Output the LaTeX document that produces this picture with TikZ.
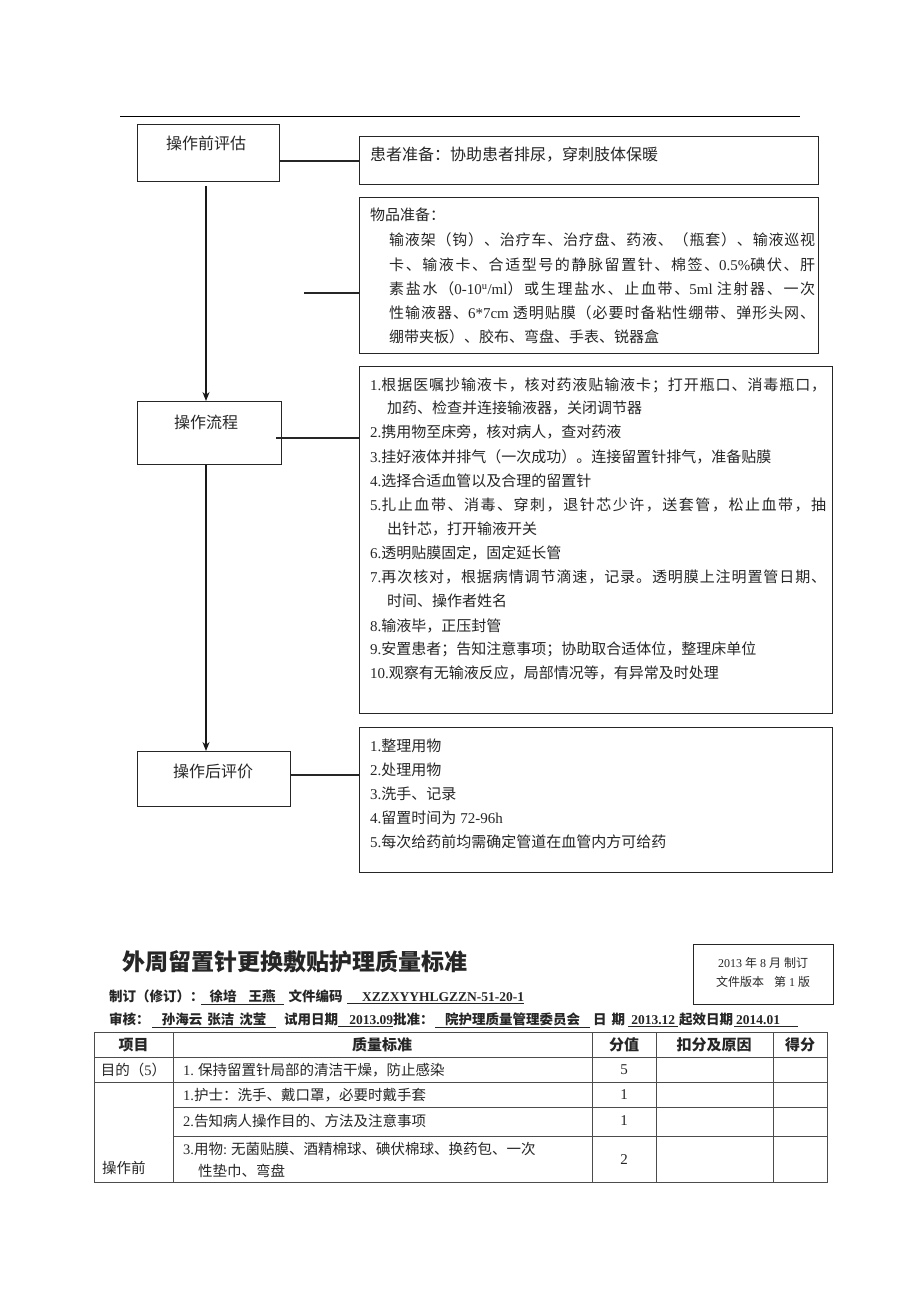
\documentclass[tikz,border=0pt]{standalone}
\usepackage{fontspec}
\setmainfont{Noto Sans CJK SC}
\newfontfamily\en{Liberation Serif}
\usetikzlibrary{arrows.meta}
\newcommand\fsz[1]{\fontsize{#1}{#1}\selectfont}
\newcount\cjkc
\cjkc="4E00
\loop \XeTeXcharclass\cjkc=1 \advance\cjkc by 1 \ifnum\cjkc<"9FB0 \repeat
\cjkc="3001
\loop \XeTeXcharclass\cjkc=1 \advance\cjkc by 1 \ifnum\cjkc<"3040 \repeat
\cjkc="FF01
\loop \XeTeXcharclass\cjkc=1 \advance\cjkc by 1 \ifnum\cjkc<"FF61 \repeat
\XeTeXinterchartokenstate=1
\XeTeXinterchartoks 1 1={\hskip0pt plus 1pt\relax}
\XeTeXinterchartoks 0 1={\hskip0pt plus 1pt\relax}
\XeTeXinterchartoks 1 0={\hskip0pt plus 1pt\relax}
\newcommand\jl[2]{\makebox[#1][s]{#2}}
\begin{document}
\begin{tikzpicture}[x=1pt,y=-1pt,
  box/.style={draw=black!85, line width=0.9pt, anchor=north west, inner sep=0pt},
  txt/.style={anchor=west, inner sep=0pt, text=black!85},
  ctxt/.style={anchor=center, inner sep=0pt, text=black!85},
  conn/.style={line width=2.4pt, black!85},
  arr/.style={line width=1.3pt, black!90, -{Stealth[length=9pt,width=7pt]}},
  grid/.style={line width=0.9pt, black!70}]
\useasboundingbox (0,0) rectangle (920,1302);
\fill[white] (0,0) rectangle (920,1302);
% top rule
\draw[line width=1pt] (120,116) -- (800,116);

% left boxes
\node[box, minimum width=142, minimum height=57] (pre) at (137,124) {};
\node[ctxt, font=\fsz{16}] (preT) at (206,143) {操作前评估};
\node[box, minimum width=144, minimum height=63] (flow) at (137,401) {};
\node[ctxt, font=\fsz{16}] (flowT) at (206,422) {操作流程};
\node[box, minimum width=153, minimum height=55] (post) at (137,751) {};
\node[ctxt, font=\fsz{16}] (postT) at (213,771) {操作后评价};

% right boxes
\node[box, minimum width=459, minimum height=48] (pat) at (359,136) {};
\node[txt, font=\fsz{16}] (patT) at (370,155) {患者准备：协助患者排尿，穿刺肢体保暖};

\node[box, minimum width=459, minimum height=156] (mat) at (359,197) {};
\node[txt, font=\fsz{15}] (m0) at (370,215) {物品准备：};
\node[txt, font=\fsz{15}] (m1) at (389,240) {\jl{426pt}{输液架（钩）、治疗车、治疗盘、药液、（瓶套）、输液巡视}};
\node[txt, font=\fsz{15}] (m2) at (389,265) {\jl{426pt}{卡、输液卡、合适型号的静脉留置针、棉签、{\en 0.5\%}碘伏、肝}};
\node[txt, font=\fsz{15}] (m3) at (389,289) {\jl{426pt}{素盐水（{\en 0-10\textsuperscript{u}/ml}）或生理盐水、止血带、{\en 5ml}\hspace{4pt}注射器、一次}};
\node[txt, font=\fsz{15}] (m4) at (389,313) {\jl{426pt}{性输液器、{\en 6*7cm}\hspace{4pt}透明贴膜（必要时备粘性绷带、弹形头网、}};
\node[txt, font=\fsz{15}] (m5) at (389,337) {绷带夹板）、胶布、弯盘、手表、锐器盒};

\node[box, minimum width=473, minimum height=347] (steps) at (359,366) {};
\node[txt, font=\fsz{15}] (s1) at (370,385) {\jl{456pt}{{\en 1.}根据医嘱抄输液卡，核对药液贴输液卡；打开瓶口、消毒瓶口，}};
\node[txt, font=\fsz{15}] (s1b) at (387,408) {加药、检查并连接输液器，关闭调节器};
\node[txt, font=\fsz{15}] (s2) at (370,432) {{\en 2.}携用物至床旁，核对病人，查对药液};
\node[txt, font=\fsz{15}] (s3) at (370,457) {{\en 3.}挂好液体并排气（一次成功）。连接留置针排气，准备贴膜};
\node[txt, font=\fsz{15}] (s4) at (370,481) {{\en 4.}选择合适血管以及合理的留置针};
\node[txt, font=\fsz{15}] (s5) at (370,505) {\jl{456pt}{{\en 5.}扎止血带、消毒、穿刺，退针芯少许，送套管，松止血带，抽}};
\node[txt, font=\fsz{15}] (s5b) at (387,529) {出针芯，打开输液开关};
\node[txt, font=\fsz{15}] (s6) at (370,553) {{\en 6.}透明贴膜固定，固定延长管};
\node[txt, font=\fsz{15}] (s7) at (370,577) {\jl{456pt}{{\en 7.}再次核对，根据病情调节滴速，记录。透明膜上注明置管日期、}};
\node[txt, font=\fsz{15}] (s7b) at (387,601) {时间、操作者姓名};
\node[txt, font=\fsz{15}] (s8) at (370,626) {{\en 8.}输液毕，正压封管};
\node[txt, font=\fsz{15}] (s9) at (370,649) {{\en 9.}安置患者；告知注意事项；协助取合适体位，整理床单位};
\node[txt, font=\fsz{15}] (s10) at (370,673) {{\en 10.}观察有无输液反应，局部情况等，有异常及时处理};

\node[box, minimum width=473, minimum height=145] (res) at (359,727) {};
\node[txt, font=\fsz{15}] (r1) at (370,746) {{\en 1.}整理用物};
\node[txt, font=\fsz{15}] (r2) at (370,770) {{\en 2.}处理用物};
\node[txt, font=\fsz{15}] (r3) at (370,794) {{\en 3.}洗手、记录};
\node[txt, font=\fsz{15}] (r4) at (370,818) {{\en 4.}留置时间为\hspace{4pt}{\en 72-96h}};
\node[txt, font=\fsz{15}] (r5) at (370,842) {{\en 5.}每次给药前均需确定管道在血管内方可给药};

% connectors
\coordinate (c1) at (279,161);
\coordinate (c2) at (304,293);
\coordinate (c3) at (276,438);
\coordinate (c4) at (290,775);
\draw[conn] (c1) -- (c1 -| pat.west);
\draw[conn] (c2) -- (c2 -| mat.west);
\draw[conn] (c3) -- (c3 -| steps.west);
\draw[conn, line width=1.8pt] (c4) -- (c4 -| res.west);
\draw[arr] (pre.south -| 206,0) ++(0,4) -- (flow.north -| 206,0);
\draw[arr] (flow.south -| 206,0) -- (post.north -| 206,0);

% ===== lower part =====
\node[txt, font=\fsz{23}\bfseries] (title) at (122,962) {外周留置针更换敷贴护理质量标准};
\node[box, minimum width=140, minimum height=60] (ver) at (693,944) {};
\node[ctxt, font=\fsz{12}] (v1) at (763,963) {{\en 2013}\hspace{3pt}年\hspace{3pt}{\en 8}\hspace{3pt}月\hspace{3pt}制订};
\node[ctxt, font=\fsz{12}] (v2) at (763,982) {文件版本\hspace{10pt}第\hspace{3pt}{\en 1}\hspace{3pt}版};

\node[txt, font=\fsz{13.5}\bfseries] (h1) at (109,997) {\makebox[92pt][l]{制订（修订）：}\underline{\makebox[83pt]{徐培\hspace{12pt}王燕}}\makebox[63pt][c]{文件编码}\underline{\makebox[177pt][r]{\en\bfseries XZZXYYHLGZZN-51-20-1}}};
\node[txt, font=\fsz{13.5}\bfseries] (h2) at (109,1020) {\makebox[43pt][l]{审核：}\underline{\makebox[124pt]{孙海云\hspace{5pt}张洁\hspace{5pt}沈莹}}\makebox[62pt][r]{试用日期}\underline{\makebox[55pt][r]{\en\bfseries 2013.09}}\makebox[42pt][l]{批准：}\underline{\makebox[155pt]{院护理质量管理委员会}}\makebox[38pt]{日\hspace{5pt}期}\underline{\makebox[50pt]{\en\bfseries 2013.12}}\makebox[56pt]{起效日期}\underline{\makebox[64pt][l]{\hspace{2pt}\en\bfseries 2014.01}}};

% table grid
\draw[grid] (94,1032) rectangle (827,1182);
\draw[grid] (94,1057) -- (827,1057);
\draw[grid] (94,1082) -- (827,1082);
\draw[grid] (173,1107) -- (827,1107);
\draw[grid] (173,1136) -- (827,1136);
\draw[grid] (173,1032) -- (173,1182);
\draw[grid] (592,1032) -- (592,1182);
\draw[grid] (656,1032) -- (656,1182);
\draw[grid] (773,1032) -- (773,1182);

\node[ctxt, font=\fsz{15}\bfseries] (th1) at (133.5,1045) {项目};
\node[ctxt, font=\fsz{15}\bfseries] (th2) at (382,1045) {质量标准};
\node[ctxt, font=\fsz{15}\bfseries] (th3) at (624,1045) {分值};
\node[ctxt, font=\fsz{15}\bfseries] (th4) at (714,1045) {扣分及原因};
\node[ctxt, font=\fsz{15}\bfseries] (th5) at (800,1045) {得分};

\node[ctxt, font=\fsz{14.5}] (a1) at (133.5,1070) {目的（{\en 5}）};
\node[txt, font=\fsz{14.5}] (a2) at (183,1070) {{\en 1.}\hspace{4pt}保持留置针局部的清洁干燥，防止感染};
\node[ctxt, font=\fsz{15}\en] (a3) at (624,1070) {5};

\node[txt, font=\fsz{14.5}] (b2) at (183,1095) {{\en 1.}护士：洗手、戴口罩，必要时戴手套};
\node[ctxt, font=\fsz{15}\en] (b3) at (624,1095) {1};
\node[txt, font=\fsz{14.5}] (c2t) at (183,1121) {{\en 2.}告知病人操作目的、方法及注意事项};
\node[ctxt, font=\fsz{15}\en] (c3t) at (624,1121) {1};
\node[txt, font=\fsz{14.5}] (d2) at (183,1149) {{\en 3.}用物{\en :}\hspace{4pt}无菌贴膜、酒精棉球、碘伏棉球、换药包、一次};
\node[txt, font=\fsz{14.5}] (d2b) at (198,1171) {性垫巾、弯盘};
\node[ctxt, font=\fsz{15}\en] (d3) at (624,1160) {2};
\node[txt, font=\fsz{14.5}] (op) at (102,1168) {操作前};
\end{tikzpicture}
\end{document}
